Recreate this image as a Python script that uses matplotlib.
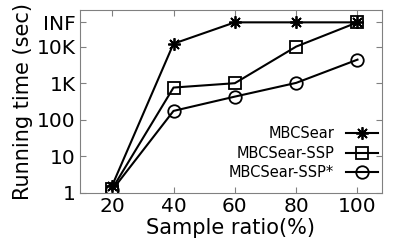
import matplotlib
matplotlib.use("Agg")
import matplotlib.pyplot as plt
from matplotlib.ticker import FixedLocator, NullLocator

plt.rcParams['font.family'] = ['DejaVu Sans']

INF = 4.6e4
ratio = [20, 40, 60, 80, 100]
mbcsear = [1.6, 12000, INF, INF, INF]
mbcsear_ssp = [1.3, 760, 1000, 10000, INF]
mbcsear_ssp_star = [1.2, 175, 430, 1020, 4400]

ytick_vals = [1, 10, 100, 1000, 10000, INF]
ytick_labels = ['1', '10', '100', '1K', '10K', 'INF']

fig = plt.figure(figsize=(4.07, 2.44), dpi=100)
ax = fig.add_axes([80/407, 1-193/244, 302/407, 183/244])

kw = dict(color='black', lw=1.5, markersize=9, markerfacecolor='none', markeredgewidth=1.3)
ax.plot(ratio, mbcsear, marker=(8, 2, 0), label='MBCSear', **kw)
ax.plot(ratio, mbcsear_ssp, marker='s', label='MBCSear-SSP', **kw)
ax.plot(ratio, mbcsear_ssp_star, marker='o', label='MBCSear-SSP*', **kw)

ax.set_yscale('log')
ax.set_ylim(1, 1e5)
ax.set_xlim(9.5, 108)
ax.yaxis.set_major_locator(FixedLocator(ytick_vals))
ax.yaxis.set_minor_locator(NullLocator())
ax.set_yticklabels(ytick_labels)
ax.set_xticks(ratio)

for s in ax.spines.values():
    s.set_color('#808080')
ax.tick_params(direction='in', top=True, right=True, length=4, width=0.8,
               color='#808080', labelsize=14.5, pad=3)

ax.set_xlabel('Sample ratio(%)', fontsize=15, labelpad=1)
ax.set_ylabel('Running time (sec)', fontsize=15, labelpad=3)

ax.legend(loc='lower right', frameon=False, markerfirst=False, fontsize=10.5,
          handlelength=2.2, handletextpad=0.8, labelspacing=0.3,
          borderpad=0, borderaxespad=0, bbox_to_anchor=(0.987, 0.07))

fig.savefig('out.png', dpi=100)
